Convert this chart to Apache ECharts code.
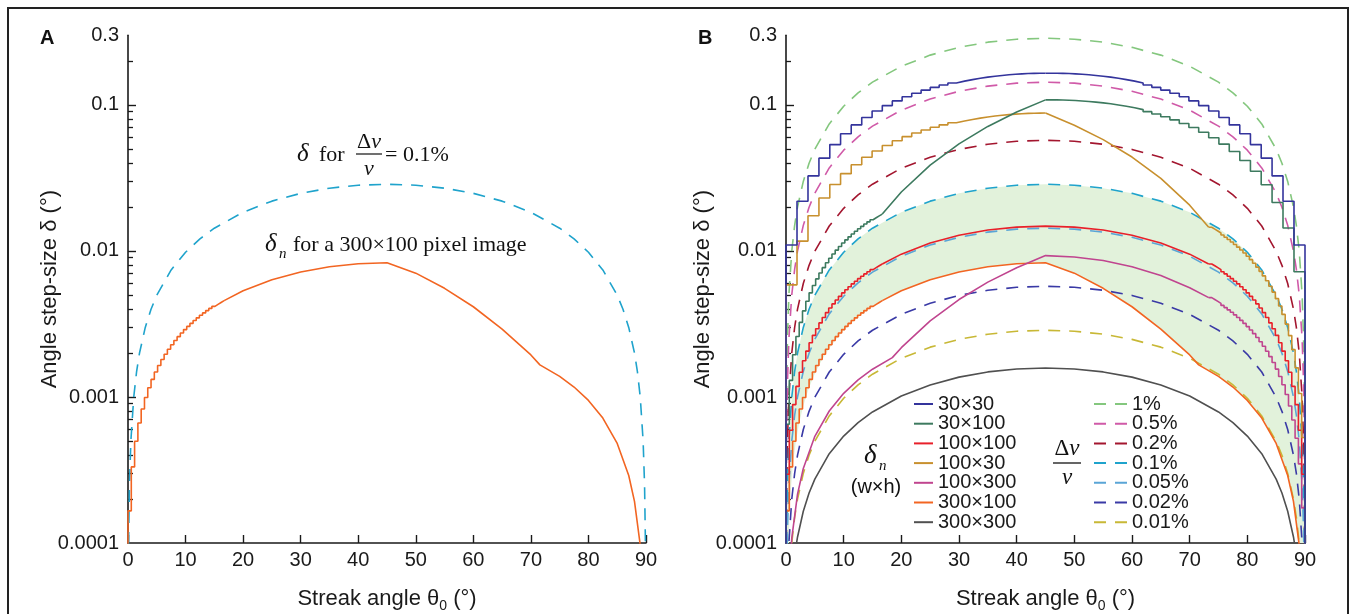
<!DOCTYPE html>
<html><head><meta charset="utf-8">
<script src="https://cdn.jsdelivr.net/npm/echarts@6/dist/echarts.min.js"></script>
<style>html,body{margin:0;padding:0;background:#fff}#c{width:1356px;height:614px}</style>
</head><body><div id="c"></div>
<script>
// ---------------- data ----------------
const xTicks = [0,10,20,30,40,50,60,70,80,90];
const yTickValues = [0.0001, 0.001, 0.01, 0.1, 0.2999];
const yTickLabels = ['0.0001','0.001','0.01','0.1','0.3'];
const yMajorTicks = [0.001, 0.01, 0.1];
const yMinorTicks = [0.0002,0.0003,0.0004,0.0005,0.0006,0.0007,0.0008,0.0009,
  0.002,0.003,0.004,0.005,0.006,0.007,0.008,0.009,
  0.02,0.03,0.04,0.05,0.06,0.07,0.08,0.09,0.2];

// dashed curves  (Δv/v)
const angDash = [0.005,0.1,0.25,0.5,1,1.5,2,3,4,5,7.5,10,12.5,15,20,25,30,35,40,45,50,55,60,65,70,75,77.5,80,82.5,85,86,87,88,88.5,89,89.5,89.75,89.9,89.995];
const d1 = [0.00005,0.001,0.0025,0.005,0.01,0.015,0.02,0.02995,0.03987,0.04975,0.07415,0.09799,0.12108,0.14325,0.18416,0.21947,0.24812,0.26922,0.28215,0.2865,0.28215,0.26922,0.24812,0.21947,0.18416,0.14325,0.12108,0.09799,0.07415,0.04975,0.03987,0.02995,0.02,0.015,0.01,0.005,0.0025,0.001,0.00005];
const d05 = [0.000025,0.0005,0.00125,0.0025,0.005,0.0075,0.01,0.014975,0.019935,0.024875,0.037075,0.048995,0.06054,0.071625,0.09208,0.109735,0.12406,0.13461,0.141075,0.14325,0.141075,0.13461,0.12406,0.109735,0.09208,0.071625,0.06054,0.048995,0.037075,0.024875,0.019935,0.014975,0.01,0.0075,0.005,0.0025,0.00125,0.0005,0.000025];
const d02 = [0.00001,0.0002,0.0005,0.001,0.002,0.003,0.004,0.00599,0.007974,0.00995,0.01483,0.019598,0.024216,0.02865,0.036832,0.043894,0.049624,0.053844,0.05643,0.0573,0.05643,0.053844,0.049624,0.043894,0.036832,0.02865,0.024216,0.019598,0.01483,0.00995,0.007974,0.00599,0.004,0.003,0.002,0.001,0.0005,0.0002,0.00001];
const d01 = [0.000005,0.0001,0.00025,0.0005,0.001,0.0015,0.002,0.002995,0.003987,0.004975,0.007415,0.009799,0.012108,0.014325,0.018416,0.021947,0.024812,0.026922,0.028215,0.02865,0.028215,0.026922,0.024812,0.021947,0.018416,0.014325,0.012108,0.009799,0.007415,0.004975,0.003987,0.002995,0.002,0.0015,0.001,0.0005,0.00025,0.0001,0.000005];
const d005 = [0.0000025,0.00005,0.000125,0.00025,0.0005,0.00075,0.001,0.0014975,0.0019935,0.0024875,0.0037075,0.0048995,0.006054,0.0071625,0.009208,0.0109735,0.012406,0.013461,0.0141075,0.014325,0.0141075,0.013461,0.012406,0.0109735,0.009208,0.0071625,0.006054,0.0048995,0.0037075,0.0024875,0.0019935,0.0014975,0.001,0.00075,0.0005,0.00025,0.000125,0.00005,0.0000025];
const d002 = [0.000001,0.00002,0.00005,0.0001,0.0002,0.0003,0.0004,0.000599,0.0007974,0.000995,0.001483,0.0019598,0.0024216,0.002865,0.0036832,0.0043894,0.0049624,0.0053844,0.005643,0.00573,0.005643,0.0053844,0.0049624,0.0043894,0.0036832,0.002865,0.0024216,0.0019598,0.001483,0.000995,0.0007974,0.000599,0.0004,0.0003,0.0002,0.0001,0.00005,0.00002,0.000001];
const d001 = [0.0000005,0.00001,0.000025,0.00005,0.0001,0.00015,0.0002,0.0002995,0.0003987,0.0004975,0.0007415,0.0009799,0.0012108,0.0014325,0.0018416,0.0021947,0.0024812,0.0026922,0.0028215,0.002865,0.0028215,0.0026922,0.0024812,0.0021947,0.0018416,0.0014325,0.0012108,0.0009799,0.0007415,0.0004975,0.0003987,0.0002995,0.0002,0.00015,0.0001,0.00005,0.000025,0.00001,0.0000005];
const v300x300 = [0.00000028,0.0000055,0.0000138,0.0000276,0.0000551,0.0000827,0.00011,0.000165,0.00022,0.000274,0.000409,0.00054,0.000668,0.00079,0.001016,0.00121,0.001368,0.001485,0.001556,0.00158,0.001556,0.001485,0.001368,0.00121,0.001016,0.00079,0.000668,0.00054,0.000409,0.000274,0.00022,0.000165,0.00011,0.0000827,0.0000551,0.0000276,0.0000138,0.0000055,0.00000028];

// coarse step angles (30 px side)
const angCoarseL = [0,1.9092,3.8141,5.7106,7.5946,9.4623,11.3099,13.1340,14.9314,16.6992,18.4349,20.1363,21.8014,23.4287,25.0169,26.5651,28.0725,29.5388,30.9638,32.3474,33.6901,34.9920,36.2538,37.4761,38.6598,39.8056,40.9144,41.9872,43.0251,44.0290,45];
const angCoarseR = [45,45.9710,46.9749,48.0128,49.0856,50.1944,51.3402,52.5239,53.7462,55.0080,56.3099,57.6526,59.0362,60.4612,61.9275,63.4349,64.9831,66.5713,68.1986,69.8637,71.5651,73.3008,75.0686,76.8660,78.6901,80.5377,82.4054,84.2894,86.1859,88.0908,90];
// fine step angles (100 px side)
const angFineL = [0,0.5729,1.1458,1.7184,2.2906,2.8624,3.4336,4.0042,4.5739,5.1428,5.7106,6.2773,6.8428,7.4069,7.9696,8.5308,9.0903,9.6480,10.2040,10.7580,11.3099,11.8598,12.4074,12.9528,13.4957,14.0362,14.5742,15.1096,15.6422,16.1722,16.6992];
const angFineR = [73.3008,73.8278,74.3578,74.8904,75.4258,75.9638,76.5043,77.0472,77.5926,78.1402,78.6901,79.2420,79.7960,80.3520,80.9097,81.4692,82.0304,82.5931,83.1572,83.7227,84.2894,84.8572,85.4261,85.9958,86.5664,87.1376,87.7094,88.2816,88.8542,89.4271,90];

// 30x30
const v30x30L = [0.000001,0.010988,0.021903,0.032673,0.043231,0.053513,0.063462,0.073024,0.082158,0.090826,0.099,0.10666,0.113793,0.120393,0.12646,0.132,0.137024,0.141548,0.145588,0.149167,0.152308,0.155034,0.15737,0.159342,0.160976,0.162295,0.163325,0.164088,0.164608,0.164905,0.165];
const v30x30R = [0.165,0.164905,0.164608,0.164088,0.163325,0.162295,0.160976,0.159342,0.15737,0.155034,0.152308,0.149167,0.145588,0.141548,0.137024,0.132,0.12646,0.120393,0.113793,0.10666,0.099,0.090826,0.082158,0.073024,0.063462,0.053513,0.043231,0.032673,0.021903,0.010988,0.000001];
// 30x100
const v30x100L = [0.000001,0.00065,0.001299,0.001948,0.002596,0.003242,0.003886,0.004528,0.005167,0.005803,0.006436,0.007065,0.007689,0.00831,0.008925,0.009535,0.01014,0.01074,0.011333,0.01192,0.0125,0.013073,0.01364,0.014199,0.01475,0.015294,0.01583,0.016357,0.016877,0.017388,0.01789];
const ang30x100M = [16.6992,20,25,30,35,40,45];
const v30x100M = [0.01789,0.02535,0.0387,0.05418,0.07129,0.08954,0.10835];
const v30x100R = [0.10835,0.108288,0.108093,0.107751,0.10725,0.106574,0.105707,0.104635,0.10334,0.101805,0.100015,0.097953,0.095603,0.09295,0.089979,0.08668,0.083042,0.079058,0.074724,0.07004,0.06501,0.059642,0.05395,0.047953,0.041673,0.03514,0.028389,0.021455,0.014383,0.007215,0.000001];
// 100x100
const v100x100L = [0.000001,0.000296,0.000592,0.000887,0.001182,0.001476,0.00177,0.002062,0.002353,0.002643,0.002931,0.003217,0.003502,0.003784,0.004064,0.004342,0.004618,0.004891,0.005161,0.005428,0.005692,0.005953,0.006211,0.006466,0.006717,0.006965,0.007209,0.007449,0.007685,0.007918,0.008147];
const ang100x100M = [16.6992,20,25,30,35,40,45,50,55,60,65,70,73.3008];
const v100x100M = [0.008147,0.009513,0.011337,0.012817,0.013908,0.014575,0.0148,0.014575,0.013908,0.012817,0.011337,0.009513,0.008147];
const v100x100R = [0.008147,0.007918,0.007685,0.007449,0.007209,0.006965,0.006717,0.006466,0.006211,0.005953,0.005692,0.005428,0.005161,0.004891,0.004618,0.004342,0.004064,0.003784,0.003502,0.003217,0.002931,0.002643,0.002353,0.002062,0.00177,0.001476,0.001182,0.000887,0.000592,0.000296,0.000001];
// 100x30
const v100x30L = [0.000001,0.00586,0.011681,0.017426,0.023057,0.028541,0.033846,0.038946,0.043817,0.04844,0.0528,0.056885,0.06069,0.06421,0.067445,0.0704,0.07308,0.075492,0.077647,0.079556,0.081231,0.082685,0.083931,0.084982,0.085854,0.086557,0.087107,0.087514,0.087791,0.087949,0.088];
const ang100x30M = [45,50,55,60,65,70,73.3008];
const v100x30M = [0.088,0.07272,0.0579,0.044,0.03144,0.02059,0.01453];
const v100x30R = [0.014532,0.014124,0.013709,0.013287,0.012859,0.012424,0.011982,0.011534,0.01108,0.01062,0.010154,0.009682,0.009206,0.008724,0.008237,0.007746,0.00725,0.00675,0.006246,0.005739,0.005228,0.004714,0.004197,0.003678,0.003157,0.002633,0.002109,0.001583,0.001056,0.000528,0.000001];
// 100x300
const ang100x300 = [0.1,0.25,0.5,1,2,3,5,7.5,10,12.5,15,18.4349,20,25,30,35,40,45,50,55,60,65,70,73.3008];
const v100x300 = [0.0000108,0.0000271,0.0000541,0.000108,0.000216,0.000324,0.000538,0.000802,0.00106,0.00131,0.00155,0.00186,0.002176,0.003322,0.00465,0.006119,0.007685,0.0093,0.0091,0.0086,0.0078,0.0068,0.0056,0.004789];
const v100x300R = [0.004789,0.004655,0.004518,0.004379,0.004238,0.004094,0.003949,0.003801,0.003651,0.0035,0.003346,0.003191,0.003034,0.002875,0.002715,0.002553,0.002389,0.002224,0.002058,0.001891,0.001723,0.001553,0.001383,0.001212,0.00104,0.000868,0.000695,0.000522,0.000348,0.000174,0.000001];
// 300x100
const v300x100L = [0.000001,0.000166,0.000332,0.000498,0.000663,0.000828,0.000992,0.001156,0.00132,0.001482,0.001644,0.001804,0.001964,0.002122,0.002279,0.002435,0.00259,0.002743,0.002894,0.003044,0.003192,0.003339,0.003483,0.003626,0.003767,0.003906,0.004043,0.004177,0.00431,0.004441,0.004569];
const ang300x100R = [16.6992,20,25,30,35,40,45,50,55,60,65,70,71.5651,75,77.5,80,82.5,85,87,88,89,89.5,89.9];
const v300x100R = [0.004569,0.005335,0.006358,0.007188,0.0078,0.008174,0.0083,0.00705,0.00555,0.00415,0.00292,0.00194,0.00166,0.001385,0.00117,0.000947,0.000717,0.000481,0.00029,0.000193,0.0000967,0.0000483,0.0000097];

const solidNames = ['30×30','30×100','100×100','100×30','100×300','300×100','300×300'];
const dashNames = ['1%','0.5%','0.2%','0.1%','0.05%','0.02%','0.01%'];
const solidColors = {'30×30':'#34349c','30×100':'#3d7a5f','100×100':'#e8202a','100×30':'#c8902e','100×300':'#c0458f','300×100':'#f26522','300×300':'#505050'};
const dashColors = {'1%':'#84c77e','0.5%':'#d05aa8','0.2%':'#a3162f','0.1%':'#1fa3cc','0.05%':'#5aa5d6','0.02%':'#3a3aa6','0.01%':'#c8b836'};

// ---------------- chart ----------------
const zip = (a,b) => a.map((x,i)=>[x,b[i]]);
const SANS = 'Liberation Sans, Arial, sans-serif';
const SERIF = 'Liberation Serif, Times New Roman, serif';
const DASH = [12,9];

function solid(name, xs, ys, step, panel){
  return {type:'line', name: name, xAxisIndex: panel, yAxisIndex: panel*2,
    data: zip(xs, ys), symbol:'none', step: step || false, z: 4,
    lineStyle:{color: solidColors[name], width:1.6}, itemStyle:{color: solidColors[name]},
    silent:true, animation:false};
}
function dashed(name, ys, panel){
  return {type:'line', name: name, xAxisIndex: panel, yAxisIndex: panel*2,
    data: zip(angDash, ys), symbol:'none', z: 3,
    lineStyle:{color: dashColors[name], width:1.6, type: DASH}, itemStyle:{color: dashColors[name]},
    silent:true, animation:false};
}

const lowerFill = zip(angFineL, v300x100L).concat(zip(ang300x100R, v300x100R));
const upperFill = zip(angDash, d01);

function yLabelFmt(v){
  let best = 0, bd = Infinity;
  yTickValues.forEach((t,i)=>{ const d = Math.abs(Math.log10(t)-Math.log10(v)); if(d<bd){bd=d;best=i;} });
  return yTickLabels[best];
}

const grids = [
  {left:128, top:35.3, width:518, height:507.7, containLabel:false, outerBoundsMode:'none'},
  {left:786, top:35.3, width:519, height:507.7, containLabel:false, outerBoundsMode:'none'}
];
const xAxes = [0,1].map(i=>({
  gridIndex:i, type:'value', min:0, max:90, interval:10,
  axisLine:{show:true, onZero:false, lineStyle:{color:'#1a1a1a', width:1.6}},
  axisTick:{show:true, inside:true, length:8, lineStyle:{color:'#1a1a1a', width:1.4}},
  axisLabel:{color:'#1a1a1a', fontSize:20, fontFamily:SANS, margin:7,
    formatter: v => String(xTicks[xTicks.indexOf(v)])},
  splitLine:{show:false},
  name:'Streak angle θ{sub|0} (°)', nameLocation:'middle', nameGap:42, nameMoveOverlap:false,
  nameTextStyle:{color:'#1a1a1a', fontSize:22, fontFamily:SANS,
    rich:{sub:{fontSize:14, fontFamily:SANS, color:'#1a1a1a', padding:[14,0,0,0]}}}
}));
const yAxes = [];
[0,1].forEach(i=>{
  yAxes.push({gridIndex:i, type:'log', logBase:10, min:0.0001, max:0.3, position:'left',
    axisLine:{show:true, lineStyle:{color:'#1a1a1a', width:1.6}},
    axisTick:{show:true, inside:true, length:8, customValues: yMajorTicks, lineStyle:{color:'#1a1a1a', width:1.4}},
    axisLabel:{show:true, customValues: yTickValues, color:'#1a1a1a', fontSize:20, fontFamily:SANS, margin:9, formatter: yLabelFmt},
    splitLine:{show:false}, minorTick:{show:false},
    name:'Angle step-size δ (°)', nameLocation:'middle', nameGap: i===0 ? 67 : 72, nameRotate:90, nameMoveOverlap:false,
    nameTextStyle:{color:'#1a1a1a', fontSize:22, fontFamily:SANS}});
  yAxes.push({gridIndex:i, type:'log', logBase:10, min:0.0001, max:0.3, position:'left', offset:0,
    axisLine:{show:false},
    axisTick:{show:true, inside:true, length:5, customValues: yMinorTicks, lineStyle:{color:'#1a1a1a', width:1.3}},
    axisLabel:{show:false}, splitLine:{show:false}});
});

const series = [];
// fill band (panel B)
series.push({type:'custom', xAxisIndex:1, yAxisIndex:2, data:[[45,0.01]], z:1, silent:true, clip:true,
  renderItem: function(params, api){
    const pts = [];
    upperFill.forEach(p=>pts.push(api.coord(p)));
    for(let i=lowerFill.length-1;i>=0;i--) pts.push(api.coord(lowerFill[i]));
    return {type:'polygon', shape:{points:pts}, style:{fill:'#e2f2db'}};
  }});
// panel A
series.push(Object.assign(dashed('0.1%', d01, 0), {name:'A 0.1%'}));
series.push(Object.assign(solid('300×100', angFineL, v300x100L, 'start', 0), {name:'A 300×100 L'}));
series.push(Object.assign(solid('300×100', ang300x100R, v300x100R, false, 0), {name:'A 300×100 R'}));
// panel B dashed
series.push(dashed('1%', d1, 1));
series.push(dashed('0.5%', d05, 1));
series.push(dashed('0.2%', d02, 1));
series.push(dashed('0.1%', d01, 1));
series.push(dashed('0.05%', d005, 1));
series.push(dashed('0.02%', d002, 1));
series.push(dashed('0.01%', d001, 1));
// panel B solid
series.push(solid('300×300', angDash, v300x300, false, 1));
series.push(solid('300×100', angFineL, v300x100L, 'start', 1));
series.push(solid('300×100', ang300x100R, v300x100R, false, 1));
series.push(solid('100×300', ang100x300, v100x300, false, 1));
series.push(solid('100×300', angFineR, v100x300R, 'end', 1));
series.push(solid('100×100', angFineL, v100x100L, 'start', 1));
series.push(solid('100×100', ang100x100M, v100x100M, false, 1));
series.push(solid('100×100', angFineR, v100x100R, 'end', 1));
series.push(solid('100×30', angCoarseL, v100x30L, 'start', 1));
series.push(solid('100×30', ang100x30M, v100x30M, false, 1));
series.push(solid('100×30', angFineR, v100x30R, 'end', 1));
series.push(solid('30×100', angFineL, v30x100L, 'start', 1));
series.push(solid('30×100', ang30x100M, v30x100M, false, 1));
series.push(solid('30×100', angCoarseR, v30x100R, 'end', 1));
series.push(solid('30×30', angCoarseL, v30x30L, 'start', 1));
series.push(solid('30×30', angCoarseR, v30x30R, 'end', 1));

const legendCommon = {orient:'vertical', top:389, itemGap:-0.3, selectedMode:false,
  textStyle:{fontSize:20, fontFamily:SANS, color:'#1a1a1a'},
  itemStyle:{opacity:0}};

const graphic = [
  {type:'rect', shape:{x:8, y:8, width:1340, height:640}, style:{fill:'none', stroke:'#222', lineWidth:2}, silent:true},
  {type:'text', x:40, y:38, style:{text:'A', font:'bold 20px '+SANS, fill:'#111', verticalAlign:'middle'}},
  {type:'text', x:698, y:38, style:{text:'B', font:'bold 20px '+SANS, fill:'#111', verticalAlign:'middle'}},
  // panel A annotations
  {type:'text', x:297, y:154, style:{text:'δ', font:'italic 25px '+SERIF, fill:'#111', verticalAlign:'middle'}},
  {type:'text', x:319, y:155, style:{text:'for', font:'22px '+SERIF, fill:'#111', verticalAlign:'middle'}},
  {type:'text', x:369, y:142, style:{text:'Δ{i|v}', font:'22px '+SERIF, fill:'#111', align:'center', verticalAlign:'middle',
    rich:{i:{fontStyle:'italic', fontSize:22, fontFamily:SERIF, fill:'#111'}}}},
  {type:'line', shape:{x1:356, y1:154, x2:382, y2:154}, style:{stroke:'#111', lineWidth:1.2}},
  {type:'text', x:369, y:169, style:{text:'v', font:'italic 22px '+SERIF, fill:'#111', align:'center', verticalAlign:'middle'}},
  {type:'text', x:385, y:155, style:{text:'= 0.1%', font:'22px '+SERIF, fill:'#111', verticalAlign:'middle'}},
  {type:'text', x:265, y:244, style:{text:'δ', font:'italic 25px '+SERIF, fill:'#111', verticalAlign:'middle'}},
  {type:'text', x:279, y:254, style:{text:'n', font:'italic 15px '+SERIF, fill:'#111', verticalAlign:'middle'}},
  {type:'text', x:293, y:245, style:{text:'for a 300×100 pixel image', font:'22px '+SERIF, fill:'#111', verticalAlign:'middle'}},
  // panel B legend extras
  {type:'text', x:864, y:456, style:{text:'δ', font:'italic 27px '+SERIF, fill:'#111', verticalAlign:'middle'}},
  {type:'text', x:879, y:466, style:{text:'n', font:'italic 15px '+SERIF, fill:'#111', verticalAlign:'middle'}},
  {type:'text', x:876, y:487, style:{text:'(w×h)', font:'20px '+SANS, fill:'#111', align:'center', verticalAlign:'middle'}},
  {type:'text', x:1067, y:449, style:{text:'Δ{i|v}', font:'23px '+SERIF, fill:'#111', align:'center', verticalAlign:'middle',
    rich:{i:{fontStyle:'italic', fontSize:23, fontFamily:SERIF, fill:'#111'}}}},
  {type:'line', shape:{x1:1053, y1:463, x2:1081, y2:463}, style:{stroke:'#111', lineWidth:1.3}},
  {type:'text', x:1067, y:478, style:{text:'v', font:'italic 23px '+SERIF, fill:'#111', align:'center', verticalAlign:'middle'}}
];

const chart = echarts.init(document.getElementById('c'), null, {renderer:'canvas'});
chart.setOption({
  animation:false, backgroundColor:'#ffffff',
  grid: grids, xAxis: xAxes, yAxis: yAxes, series: series,
  legend:[
    Object.assign({}, legendCommon, {left:908, data:solidNames, itemWidth:19, itemHeight:12}),
    Object.assign({}, legendCommon, {left:1088, data:dashNames, itemWidth:33, itemHeight:12})
  ],
  graphic: graphic
});
</script></body></html>
